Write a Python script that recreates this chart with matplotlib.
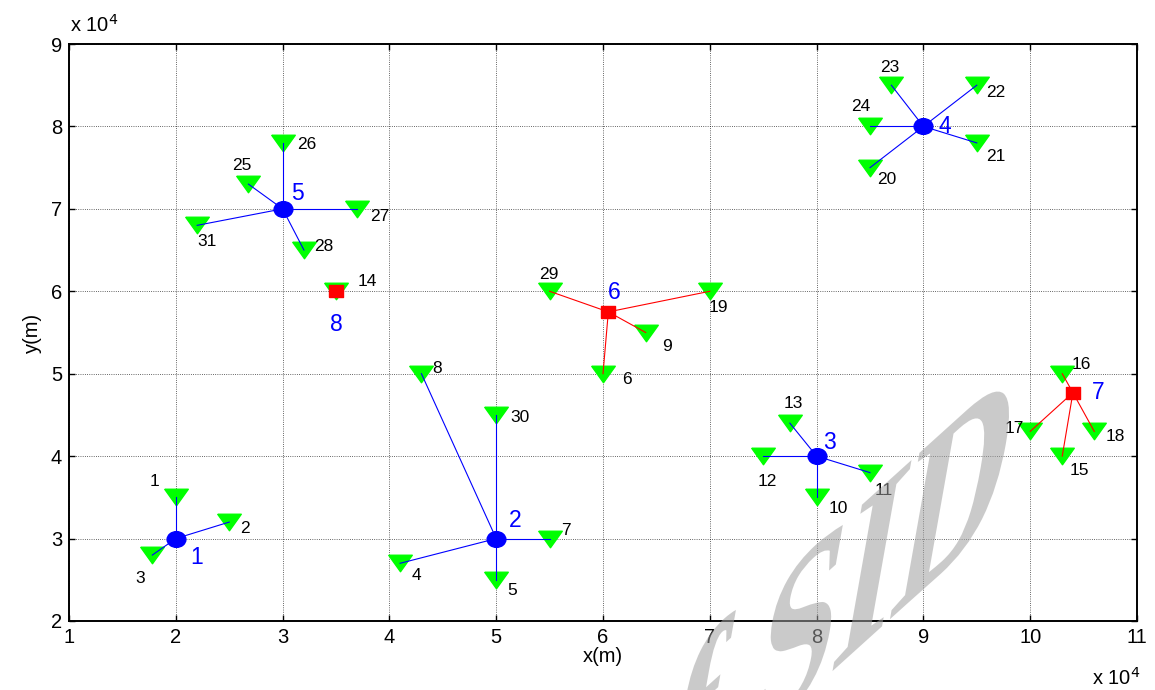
import numpy as np
import matplotlib
matplotlib.use("Agg")
import matplotlib.pyplot as plt
from matplotlib.path import Path
from matplotlib.patches import PathPatch
from matplotlib.textpath import TextPath
from matplotlib.font_manager import FontProperties
from matplotlib.transforms import Affine2D

plt.rcParams['font.family'] = ['Liberation Sans', 'DejaVu Sans']

# sensor nodes (x, y in units of 1e4 m)
node_id = list(range(1, 32))
node_x = [2.0, 2.5, 1.78, 4.1, 5.0, 6.0, 5.5, 4.3, 6.4, 8.0, 8.5, 7.5, 7.75, 3.5, 10.3, 10.3,
          10.0, 10.6, 7.0, 8.5, 9.5, 9.5, 8.7, 8.5, 2.68, 3.0, 3.7, 3.2, 5.5, 5.0, 2.2]
node_y = [3.5, 3.2, 2.8, 2.7, 2.5, 5.0, 3.0, 5.0, 5.5, 3.5, 3.8, 4.0, 4.4, 6.0, 4.0, 5.0,
          4.3, 4.3, 6.0, 7.5, 7.8, 8.5, 8.5, 8.0, 7.3, 7.8, 7.0, 6.5, 6.0, 4.5, 6.8]
# cluster head each node is linked to (0 = none)
node_head = [1, 1, 1, 2, 2, 6, 2, 2, 6, 3, 3, 3, 3, 0, 7, 7,
             7, 7, 6, 4, 4, 4, 4, 4, 5, 5, 5, 5, 6, 2, 5]

# cluster heads: 1-5 fixed (blue circles), 6-8 mobile (red squares)
head_id = [1, 2, 3, 4, 5, 6, 7, 8]
head_x = [2.0, 5.0, 8.0, 9.0, 3.0, 6.05, 10.4, 3.5]
head_y = [3.0, 3.0, 4.0, 8.0, 7.0, 5.75, 4.77, 6.0]
head_kind = ['fixed'] * 5 + ['mobile'] * 3

# label offsets in pixels (layout only)
node_off = [(-21, 16), (16, -6), (-12, -23), (16, -12), (16, -11), (24, -6), (16, 8), (16, 5),
            (21, -14), (22, -11), (14, -18), (4, -25), (3, 20), (31, 10), (17, -14), (19, 9),
            (-16, 3), (21, -5), (9, -16), (17, -12), (19, -14), (19, -7), (-2, 18), (-9, 20),
            (-7, 19), (24, -2), (22, -8), (20, 4), (-1, 17), (24, -3), (10, -16)]
head_off = [(21, -19), (19, 18), (13, 14), (21, 0), (15, 15), (6, 19), (25, 0), (0, -33)]

fig = plt.figure(figsize=(11.55, 6.9), dpi=100)
ax = fig.add_axes([69 / 1155, 69 / 690, 1068 / 1155, 577 / 690])

tri = Path([(-1, 0.7), (1, 0.7), (0, -0.7), (-1, 0.7)])
ell = Path.unit_circle().transformed(Affine2D().scale(1, 0.84))
sq = Path([(-1, -0.8), (1, -0.8), (1, 0.8), (-1, 0.8), (-1, -0.8)])

colors = {'fixed': 'blue', 'mobile': 'red'}

# links
for i in range(len(node_id)):
    h = node_head[i]
    if h == 0:
        continue
    k = h - 1
    ax.plot([head_x[k], node_x[i]], [head_y[k], node_y[i]], color=colors[head_kind[k]],
            lw=0.8, zorder=3)

ax.plot(node_x, node_y, linestyle='none', marker=tri, markersize=17, color='#00ff00',
        markeredgecolor='#00ff00', zorder=2)

for k in range(len(head_id)):
    if head_kind[k] == 'fixed':
        ax.plot(head_x[k], head_y[k], marker=ell, markersize=13.5, color='blue', zorder=4)
    else:
        ax.plot(head_x[k], head_y[k], marker=sq, markersize=10.5, color='red', zorder=4)

for i in range(len(node_id)):
    ax.annotate(str(node_id[i]), (node_x[i], node_y[i]), xytext=node_off[i],
                textcoords='offset pixels', ha='center', va='center', fontsize=12.5,
                color='black', zorder=5)
for k in range(len(head_id)):
    ax.annotate(str(head_id[k]), (head_x[k], head_y[k]), xytext=head_off[k],
                textcoords='offset pixels', ha='center', va='center', fontsize=16.5,
                color='blue', zorder=5)

ax.set_xlim(1, 11)
ax.set_ylim(2, 9)
ax.set_xticks(range(1, 12))
ax.set_yticks(range(2, 10))
ax.grid(True, color='black', linestyle=':', linewidth=0.6, alpha=0.8)
ax.set_axisbelow(True)
ax.tick_params(direction='in', top=True, right=True, length=4, width=1, labelsize=14.5, pad=5)
for s in ax.spines.values():
    s.set_linewidth(1.4)
ax.set_xlabel('x(m)', fontsize=14.5, labelpad=0)
ax.set_ylabel('y(m)', fontsize=14.5, labelpad=6)
fig.text(70 / 1155, 1 - 25 / 690, r'x 10$^4$', fontsize=14.5, va='center', ha='left')
fig.text(1140 / 1155, 1 - 678 / 690, r'x 10$^4$', fontsize=14.5, va='center', ha='right')

# grey watermark
tp = TextPath((0, 0), 'of SID', size=1,
              prop=FontProperties(family='Liberation Serif', weight='bold'))
M = np.array([[154, 45, 0], [139, 254, 0], [0, 0, 1]], dtype=float)
ref = M[:2, :2] @ np.array([1.833, 0.33])
tr = Affine2D(M).translate(872 - ref[0], 125 - ref[1])
wm = PathPatch(tp, transform=tr, facecolor='#a0a0a0', edgecolor='none', alpha=0.55, zorder=10)
fig.add_artist(wm)

fig.savefig('out.png', dpi=100)
